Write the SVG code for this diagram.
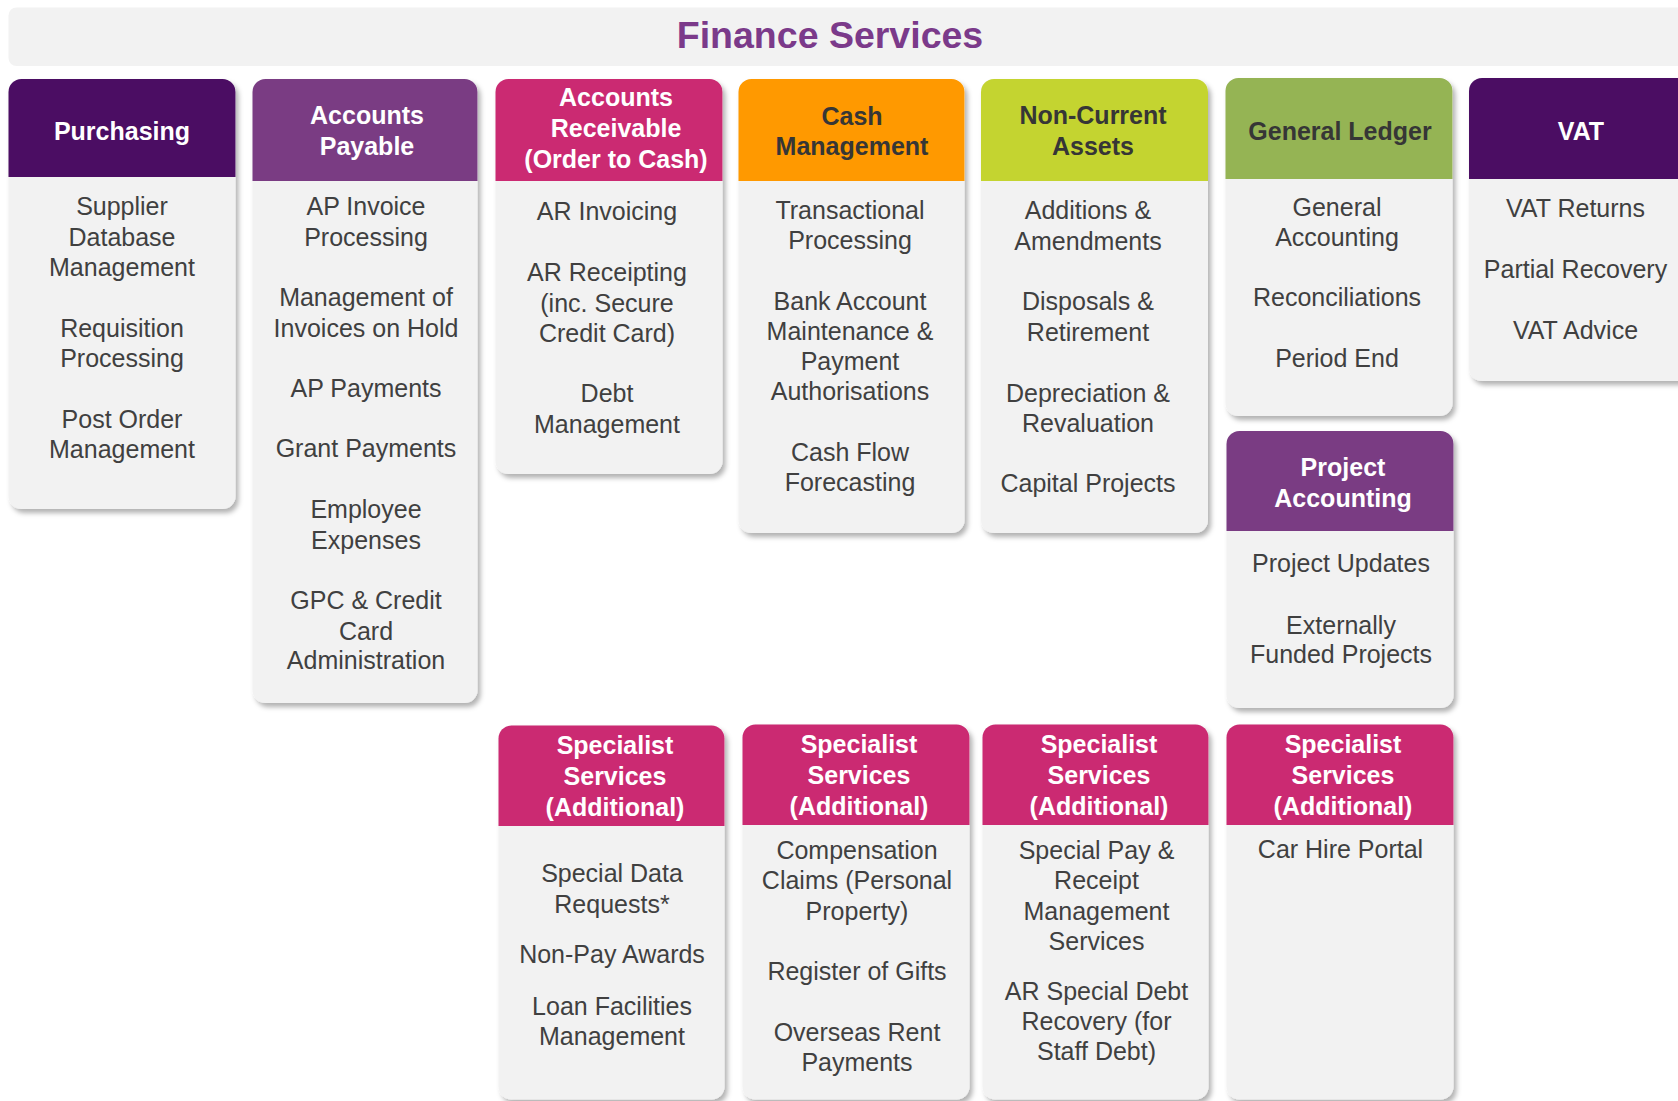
<svg xmlns="http://www.w3.org/2000/svg" width="1678" height="1101" viewBox="0 0 1678 1101">
<defs>
<filter id="sh" x="-10%" y="-10%" width="125%" height="125%">
<feDropShadow dx="3" dy="4" stdDeviation="2.5" flood-color="#000" flood-opacity="0.3"/>
</filter>
</defs>
<style>
.card{fill:#f2f2f2;filter:url(#sh)}
.ht{font-family:"Liberation Sans",Arial,sans-serif;font-weight:bold;font-size:25px;text-anchor:middle;fill:#ffffff}
.hd{fill:#363636}
.bt{font-family:"Liberation Sans",Arial,sans-serif;font-size:25px;text-anchor:middle;fill:#404040}
.title{font-family:"Liberation Sans",Arial,sans-serif;font-weight:bold;font-size:37.5px;text-anchor:middle;fill:#7b3a8a}
.c1{fill:#4b0d63}.c2{fill:#7a3c83}.c3{fill:#cb2a72}.c4{fill:#ff9900}.c5{fill:#c4d430}.c6{fill:#95b454}
</style>
<rect width="1678" height="1101" fill="#ffffff"/>
<g id="title">
<rect x="8.5" y="7.5" width="1700" height="58.5" rx="8" fill="#f2f2f2"/>
<text class="title" x="830" y="48">Finance Services</text>
</g>
<g id="connectors"/>

<g id="purchasing">
<rect class="card" x="8.5" y="79" width="227" height="430" rx="13"/>
<path class="c1" d="M8.5,177V92A13,13 0 0 1 21.5,79H222.5A13,13 0 0 1 235.5,92V177Z"/>
<text class="ht" x="122" y="139.5">Purchasing</text>
<text class="bt" x="122" y="215">Supplier</text>
<text class="bt" x="122" y="246">Database</text>
<text class="bt" x="122" y="276">Management</text>
<text class="bt" x="122" y="337">Requisition</text>
<text class="bt" x="122" y="367">Processing</text>
<text class="bt" x="122" y="428">Post Order</text>
<text class="bt" x="122" y="458">Management</text>
</g>

<g id="accounts-payable">
<rect class="card" x="252.5" y="79" width="225" height="624" rx="13"/>
<path class="c2" d="M252.5,181V92A13,13 0 0 1 265.5,79H464.5A13,13 0 0 1 477.5,92V181Z"/>
<text class="ht" x="367" y="124">Accounts</text>
<text class="ht" x="367" y="155">Payable</text>
<text class="bt" x="366" y="215">AP Invoice</text>
<text class="bt" x="366" y="245.5">Processing</text>
<text class="bt" x="366" y="306">Management of</text>
<text class="bt" x="366" y="336.5">Invoices on Hold</text>
<text class="bt" x="366" y="397">AP Payments</text>
<text class="bt" x="366" y="457">Grant Payments</text>
<text class="bt" x="366" y="518">Employee</text>
<text class="bt" x="366" y="548.5">Expenses</text>
<text class="bt" x="366" y="609">GPC &amp; Credit</text>
<text class="bt" x="366" y="639.5">Card</text>
<text class="bt" x="366" y="669">Administration</text>
</g>

<g id="accounts-receivable">
<rect class="card" x="495.5" y="79" width="227" height="395" rx="13"/>
<path class="c3" d="M495.5,181V92A13,13 0 0 1 508.5,79H709.5A13,13 0 0 1 722.5,92V181Z"/>
<text class="ht" x="616" y="106">Accounts</text>
<text class="ht" x="616" y="137">Receivable</text>
<text class="ht" x="616" y="168">(Order to Cash)</text>
<text class="bt" x="607" y="220">AR Invoicing</text>
<text class="bt" x="607" y="281">AR Receipting</text>
<text class="bt" x="607" y="311.5">(inc. Secure</text>
<text class="bt" x="607" y="342">Credit Card)</text>
<text class="bt" x="607" y="402">Debt</text>
<text class="bt" x="607" y="432.5">Management</text>
</g>

<g id="cash-management">
<rect class="card" x="738.5" y="79" width="226" height="454" rx="13"/>
<path class="c4" d="M738.5,181V92A13,13 0 0 1 751.5,79H951.5A13,13 0 0 1 964.5,92V181Z"/>
<text class="ht hd" x="852" y="124.5">Cash</text>
<text class="ht hd" x="852" y="155">Management</text>
<text class="bt" x="850" y="218.5">Transactional</text>
<text class="bt" x="850" y="249">Processing</text>
<text class="bt" x="850" y="309.5">Bank Account</text>
<text class="bt" x="850" y="340">Maintenance &amp;</text>
<text class="bt" x="850" y="370">Payment</text>
<text class="bt" x="850" y="400">Authorisations</text>
<text class="bt" x="850" y="461">Cash Flow</text>
<text class="bt" x="850" y="491">Forecasting</text>
</g>

<g id="non-current-assets">
<rect class="card" x="981" y="79" width="227" height="454" rx="13"/>
<path class="c5" d="M981,181V92A13,13 0 0 1 994,79H1195A13,13 0 0 1 1208,92V181Z"/>
<text class="ht hd" x="1093" y="123.5">Non-Current</text>
<text class="ht hd" x="1093" y="154.5">Assets</text>
<text class="bt" x="1088" y="219">Additions &amp;</text>
<text class="bt" x="1088" y="249.5">Amendments</text>
<text class="bt" x="1088" y="310">Disposals &amp;</text>
<text class="bt" x="1088" y="341">Retirement</text>
<text class="bt" x="1088" y="401.5">Depreciation &amp;</text>
<text class="bt" x="1088" y="432">Revaluation</text>
<text class="bt" x="1088" y="492">Capital Projects</text>
</g>

<g id="general-ledger">
<rect class="card" x="1225.5" y="78" width="227" height="338" rx="13"/>
<path class="c6" d="M1225.5,179V91A13,13 0 0 1 1238.5,78H1439.5A13,13 0 0 1 1452.5,91V179Z"/>
<text class="ht hd" x="1340" y="139.5">General Ledger</text>
<text class="bt" x="1337" y="215.5">General</text>
<text class="bt" x="1337" y="246">Accounting</text>
<text class="bt" x="1337" y="306">Reconciliations</text>
<text class="bt" x="1337" y="366.5">Period End</text>
</g>

<g id="vat">
<rect class="card" x="1469" y="78" width="227" height="303" rx="13"/>
<path class="c1" d="M1469,179V91A13,13 0 0 1 1482,78H1683A13,13 0 0 1 1696,91V179Z"/>
<text class="ht" x="1581" y="139.5">VAT</text>
<text class="bt" x="1575.5" y="217">VAT Returns</text>
<text class="bt" x="1575.5" y="278">Partial Recovery</text>
<text class="bt" x="1575.5" y="339">VAT Advice</text>
</g>

<g id="project-accounting">
<rect class="card" x="1226.5" y="431" width="227" height="277" rx="13"/>
<path class="c2" d="M1226.5,531V444A13,13 0 0 1 1239.5,431H1440.5A13,13 0 0 1 1453.5,444V531Z"/>
<text class="ht" x="1343" y="475.5">Project</text>
<text class="ht" x="1343" y="506.5">Accounting</text>
<text class="bt" x="1341" y="572">Project Updates</text>
<text class="bt" x="1341" y="634">Externally</text>
<text class="bt" x="1341" y="663">Funded Projects</text>
</g>

<g id="specialist-1">
<rect class="card" x="498.5" y="725.5" width="226" height="374" rx="13"/>
<path class="c3" d="M498.5,826V738.5A13,13 0 0 1 511.5,725.5H711.5A13,13 0 0 1 724.5,738.5V826Z"/>
<text class="ht" x="615" y="753.5">Specialist</text>
<text class="ht" x="615" y="784.5">Services</text>
<text class="ht" x="615" y="815.5">(Additional)</text>
<text class="bt" x="612" y="882">Special Data</text>
<text class="bt" x="612" y="912.5">Requests*</text>
<text class="bt" x="612" y="963">Non-Pay Awards</text>
<text class="bt" x="612" y="1014.5">Loan Facilities</text>
<text class="bt" x="612" y="1044.5">Management</text>
</g>

<g id="specialist-2">
<rect class="card" x="742.5" y="724.5" width="227" height="375" rx="13"/>
<path class="c3" d="M742.5,825V737.5A13,13 0 0 1 755.5,724.5H956.5A13,13 0 0 1 969.5,737.5V825Z"/>
<text class="ht" x="859" y="752.5">Specialist</text>
<text class="ht" x="859" y="783.5">Services</text>
<text class="ht" x="859" y="814.5">(Additional)</text>
<text class="bt" x="857" y="858.5">Compensation</text>
<text class="bt" x="857" y="888.5">Claims (Personal</text>
<text class="bt" x="857" y="919.5">Property)</text>
<text class="bt" x="857" y="980">Register of Gifts</text>
<text class="bt" x="857" y="1040.5">Overseas Rent</text>
<text class="bt" x="857" y="1070.5">Payments</text>
</g>

<g id="specialist-3">
<rect class="card" x="982.5" y="724.5" width="226" height="375" rx="13"/>
<path class="c3" d="M982.5,825V737.5A13,13 0 0 1 995.5,724.5H1195.5A13,13 0 0 1 1208.5,737.5V825Z"/>
<text class="ht" x="1099" y="753">Specialist</text>
<text class="ht" x="1099" y="784">Services</text>
<text class="ht" x="1099" y="815">(Additional)</text>
<text class="bt" x="1096.5" y="858.5">Special Pay &amp;</text>
<text class="bt" x="1096.5" y="888.5">Receipt</text>
<text class="bt" x="1096.5" y="919.5">Management</text>
<text class="bt" x="1096.5" y="949.5">Services</text>
<text class="bt" x="1096.5" y="1000">AR Special Debt</text>
<text class="bt" x="1096.5" y="1030">Recovery (for</text>
<text class="bt" x="1096.5" y="1060">Staff Debt)</text>
</g>

<g id="specialist-4">
<rect class="card" x="1226.5" y="724.5" width="227" height="375" rx="13"/>
<path class="c3" d="M1226.5,825V737.5A13,13 0 0 1 1239.5,724.5H1440.5A13,13 0 0 1 1453.5,737.5V825Z"/>
<text class="ht" x="1343" y="753">Specialist</text>
<text class="ht" x="1343" y="784">Services</text>
<text class="ht" x="1343" y="815">(Additional)</text>
<text class="bt" x="1340.5" y="858">Car Hire Portal</text>
</g>
</svg>
